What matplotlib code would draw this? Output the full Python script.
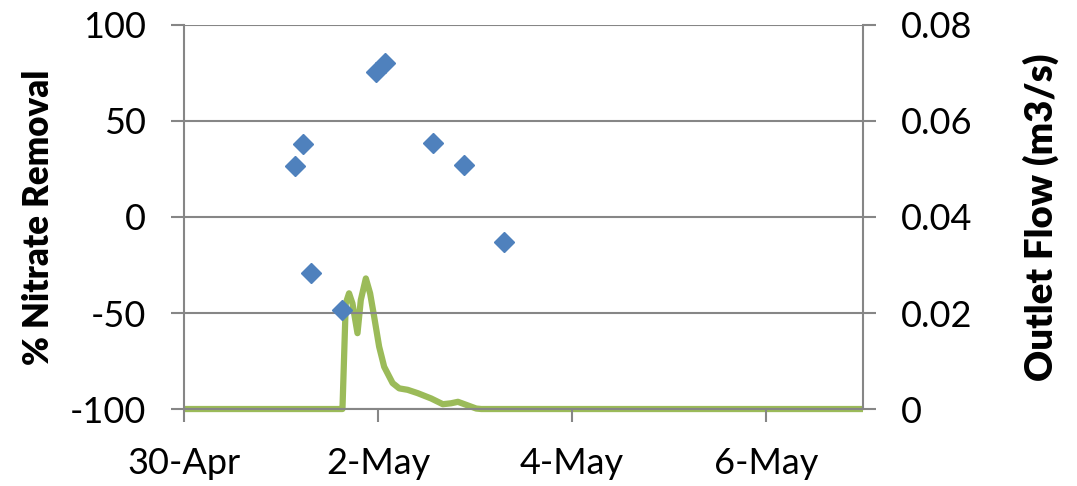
import matplotlib
matplotlib.use('Agg')
from matplotlib import pyplot as plt
import matplotlib.dates as mdates
from datetime import datetime, timedelta

plt.rcParams['font.family'] = ['Lato', 'DejaVu Sans']
plt.rcParams['axes.unicode_minus'] = False

start = datetime(2013, 4, 30)

# nitrate removal samples (days after 30-Apr, %)
nit_days = [1.140, 1.226, 1.313, 1.634, 1.975, 2.068, 2.568, 2.882, 3.303]
nit_removal = [26.6, 38.2, -29.0, -48.4, 75.4, 80.1, 38.4, 27.1, -13.2]

# outlet flow (days after 30-Apr, m3/s)
flow_days = [0.0, 1.600, 1.634, 1.668, 1.702, 1.737, 1.789, 1.823, 1.875, 1.919,
             1.961, 2.012, 2.064, 2.151, 2.219, 2.306, 2.410, 2.548, 2.669,
             2.755, 2.824, 2.892, 3.013, 3.065, 7.0]
flow = [0.0, 0.0, 0.0, 0.0220, 0.0241, 0.0220, 0.0158, 0.0227, 0.0272, 0.0241,
        0.0192, 0.0130, 0.0088, 0.0054, 0.0043, 0.0040, 0.0033, 0.0022, 0.0010,
        0.0012, 0.0015, 0.0010, 0.0001, 0.0, 0.0]

tick_days = [0, 2, 4, 6]

nit_t = [start + timedelta(days=d) for d in nit_days]
flow_t = [start + timedelta(days=d) for d in flow_days]

grid_c = '#868686'

fig = plt.figure(figsize=(10.77, 4.86), dpi=100)
ax = fig.add_axes([0.1708, 0.1584, 0.8013 - 0.1708, 0.9486 - 0.1584])
ax2 = ax.twinx()

ax.set_zorder(2)
ax.patch.set_visible(False)
ax2.set_zorder(1)

ax2.plot(flow_t, flow, color='#9BBB59', lw=4.5, solid_joinstyle='round',
         solid_capstyle='butt', clip_on=False)
ax.plot(nit_t, nit_removal, 'D', color='#4F81BD', ms=10, mec='#4F81BD', zorder=3)

ax.set_xlim(start, start + timedelta(days=7))
ax.set_ylim(-100, 100)
ax.set_yticks([-100, -50, 0, 50, 100])
ax2.set_ylim(0, 0.08)
ax2.set_yticks([0, 0.02, 0.04, 0.06, 0.08])
ax2.set_yticklabels(['0', '0.02', '0.04', '0.06', '0.08'])

ax.set_xticks([start + timedelta(days=d) for d in tick_days])
ax.xaxis.set_major_formatter(mdates.DateFormatter('%-d-%b'))

ax.yaxis.grid(True, color=grid_c, lw=1.5)
ax.set_axisbelow(True)

for a in (ax, ax2):
    for s in a.spines.values():
        s.set_visible(False)
for a, side in ((ax, 'left'), (ax, 'bottom'), (ax2, 'right')):
    a.spines[side].set_visible(True)
    a.spines[side].set_color(grid_c)
    a.spines[side].set_linewidth(1.5)

ax.tick_params(axis='both', colors=grid_c, labelcolor='black', labelsize=26,
               length=9.5, width=1.5, pad=18)
ax2.tick_params(axis='y', colors=grid_c, labelcolor='black', labelsize=26,
                length=9.5, width=1.5, pad=18)

ax.set_ylabel('% Nitrate Removal', fontsize=25, fontweight='heavy', labelpad=10)
ax2.set_ylabel('Outlet Flow (m3/s)', fontsize=27.5, fontweight='heavy', labelpad=36)

fig.savefig('out.png', dpi=100)
